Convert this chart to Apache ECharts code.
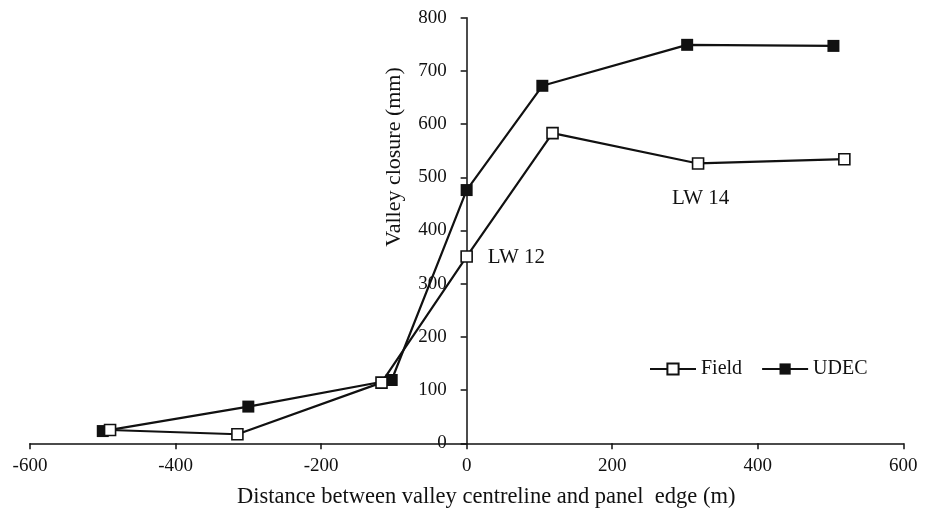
<!DOCTYPE html>
<html>
<head>
<meta charset="utf-8">
<script src="https://cdn.jsdelivr.net/npm/echarts@6/dist/echarts.min.js"></script>
<style>html,body{margin:0;padding:0;background:#fff}#c{width:933px;height:512px}</style>
</head>
<body>
<div id="c"></div>
<script>
var fieldX = [-490, -315, -117, 0, 118, 318, 519];
var fieldY = [25, 17, 114, 351, 583, 526, 534];
var udecX = [-500, -300, -103, 0, 104, 303, 504];
var udecY = [23, 69, 119, 476, 672, 749, 747];
var annotations = [
  {text: 'LW 12', x: 29, y: 350},
  {text: 'LW 14', x: 282, y: 461}
];
var xTicks = {min: -600, max: 600, interval: 200};
var yTicks = {min: 0, max: 800, interval: 100};

function pairs(xs, ys) { return xs.map(function (x, i) { return [x, ys[i]]; }); }

var font = 'Liberation Serif';
var gridLeft = 30, gridRight = 29.7;
var gridWidth = 933 - gridLeft - gridRight;
var zeroOffset = gridWidth * (0 - xTicks.min) / (xTicks.max - xTicks.min);

var chart = echarts.init(document.getElementById('c'));
chart.setOption({
  animation: false,
  backgroundColor: '#fff',
  grid: {left: gridLeft, right: gridRight, top: 17.7, bottom: 68.7, containLabel: false, outerBoundsMode: 'none'},
  legend: {
    left: 644, top: 354,
    itemWidth: 46, itemHeight: 14, itemGap: 19,
    textStyle: {fontFamily: font, fontSize: 20, color: '#111'},
    data: ['Field', 'UDEC']
  },
  xAxis: {
    type: 'value', min: xTicks.min, max: xTicks.max, interval: xTicks.interval,
    name: 'Distance between valley centreline and panel  edge (m)',
    nameLocation: 'middle', nameGap: 42,
    nameTextStyle: {fontFamily: font, fontSize: 22.5, color: '#111', padding: [0, 0, 0, 39]},
    axisLine: {onZero: false, lineStyle: {color: '#111', width: 1.5}},
    axisTick: {show: true, length: 6, lineStyle: {color: '#111', width: 1.5}},
    axisLabel: {fontFamily: font, fontSize: 19, color: '#111', margin: 13},
    splitLine: {show: false}
  },
  yAxis: {
    type: 'value', min: yTicks.min, max: yTicks.max, interval: yTicks.interval,
    offset: -zeroOffset,
    name: 'Valley closure (mm)',
    nameLocation: 'middle', nameGap: 61, nameRotate: 90,
    nameTextStyle: {fontFamily: font, fontSize: 22, color: '#111', padding: [0, 0, 0, 147]},
    axisLine: {onZero: false, lineStyle: {color: '#111', width: 1.5}},
    axisTick: {show: true, length: 6, lineStyle: {color: '#111', width: 1.5}},
    axisLabel: {fontFamily: font, fontSize: 19, color: '#111', margin: 20},
    splitLine: {show: false}
  },
  series: [
    {
      name: 'Field', type: 'line', data: pairs(fieldX, fieldY),
      symbol: 'rect', symbolSize: 11, showAllSymbol: true,
      lineStyle: {color: '#111', width: 2.2},
      itemStyle: {color: '#fff', borderColor: '#111', borderWidth: 1.6},
      z: 3
    },
    {
      name: 'UDEC', type: 'line', data: pairs(udecX, udecY),
      symbol: 'rect', symbolSize: 12, showAllSymbol: true,
      lineStyle: {color: '#111', width: 2.2},
      itemStyle: {color: '#111', borderColor: '#111', borderWidth: 0},
      z: 2
    },
    {
      name: 'labels', type: 'scatter', symbolSize: 0, silent: true,
      itemStyle: {opacity: 1},
      data: annotations.map(function (a) { return {value: [a.x, a.y], name: a.text}; }),
      label: {show: true, position: 'right', distance: 0, formatter: '{b}',
        fontFamily: font, fontSize: 21, color: '#111', opacity: 1}
    }
  ]
});
</script>
</body>
</html>
